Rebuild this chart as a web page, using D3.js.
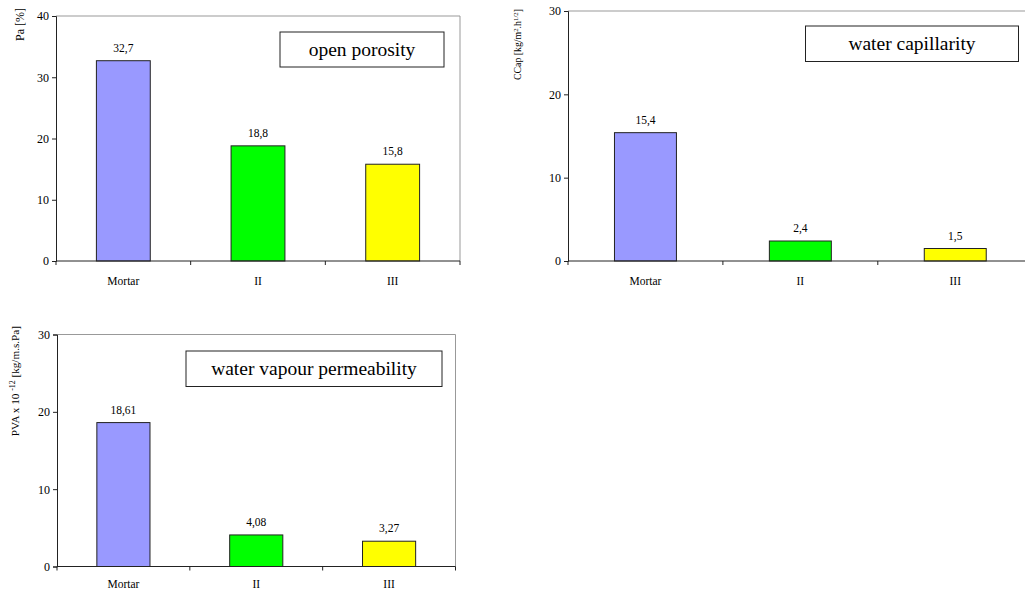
<!DOCTYPE html>
<html><head><meta charset="utf-8">
<script src="https://cdn.jsdelivr.net/npm/d3@7"></script>
<style>body{margin:0;background:#fff}svg{display:block}svg text{font-family:"Liberation Serif",serif !important;fill:#000}</style>
</head><body>
<svg id="c" width="1025" height="590"></svg>
<script>
const categories = ["Mortar", "II", "III"];
const porosityValues = [32.7, 18.8, 15.8];
const porosityLabels = ["32,7", "18,8", "15,8"];
const capillarityValues = [15.4, 2.4, 1.5];
const capillarityLabels = ["15,4", "2,4", "1,5"];
const vapourValues = [18.61, 4.08, 3.27];
const vapourLabels = ["18,61", "4,08", "3,27"];
const porosityTicks = [0, 10, 20, 30, 40];
const capTicks = [0, 10, 20, 30];
const vapourTicks = [0, 10, 20, 30];
const barColors = ["#9999FF", "#00FF00", "#FFFF00"];

const FONT = "Liberation Serif, serif";
const svg = d3.select("#c");

function drawChart(o) {
  const g = svg.append("g").attr("font-family", FONT);
  const x = d3.scaleBand().domain(categories).range([o.left, o.right]).paddingInner(0.6).paddingOuter(0.3);
  const xb = d3.scaleBand().domain(categories).range([o.left, o.right]).padding(0);
  const y = d3.scaleLinear().domain([0, d3.max(o.ticks)]).range([o.bottom, o.top]);
  g.append("path").attr("d", `M${o.left},${o.top}H${o.right}V${o.bottom}`).attr("fill", "none").attr("stroke", "#999").attr("stroke-width", 1);
  g.selectAll("rect.bar").data(o.values).join("rect")
    .attr("x", (d, i) => x(categories[i])).attr("width", x.bandwidth())
    .attr("y", d => y(d)).attr("height", d => y(0) - y(d))
    .attr("fill", (d, i) => barColors[i]).attr("stroke", "#222").attr("stroke-width", 1);
  g.selectAll("text.val").data(o.values).join("text")
    .attr("x", (d, i) => x(categories[i]) + x.bandwidth() / 2).attr("y", d => y(d) - 9)
    .attr("text-anchor", "middle").attr("font-size", 11.5).text((d, i) => o.labels[i]);
  const ya = g.append("g").attr("transform", `translate(${o.left},0)`)
    .call(d3.axisLeft(y).tickValues(o.ticks).tickSize(4).tickPadding(3).tickFormat(d3.format("d")));
  ya.attr("font-family", FONT);
  ya.selectAll("text").attr("font-size", 12);
  ya.selectAll("line,path").attr("stroke", "#222");
  g.append("line").attr("x1", o.left).attr("x2", o.right).attr("y1", o.bottom).attr("y2", o.bottom).attr("stroke", "#222");
  const bounds = categories.map(c => xb(c)).concat([o.right]);
  g.selectAll("line.xt").data(bounds).join("line")
    .attr("x1", d => d).attr("x2", d => d).attr("y1", o.bottom).attr("y2", o.bottom + 4).attr("stroke", "#222");
  g.selectAll("text.xl").data(categories).join("text")
    .attr("x", d => xb(d) + xb.bandwidth() / 2).attr("y", o.bottom + o.xlabOff)
    .attr("text-anchor", "middle").attr("font-size", 11.5).text(d => d);
  g.append("rect").attr("x", o.box[0]).attr("y", o.box[1]).attr("width", o.box[2] - o.box[0]).attr("height", o.box[3] - o.box[1])
    .attr("fill", "#fff").attr("stroke", "#222").attr("stroke-width", 1);
  g.append("text").attr("x", (o.box[0] + o.box[2]) / 2).attr("y", (o.box[1] + o.box[3]) / 2 + 6)
    .attr("text-anchor", "middle").attr("font-size", 19.5).text(o.title);
  const t = g.append("text").attr("transform", `translate(${o.labelX},${o.labelY}) rotate(-90)`)
    .attr("text-anchor", "end").attr("font-size", o.labelSize);
  o.labelParts.forEach(p => {
    const ts = t.append("tspan").text(p[0]);
    if (p[1] === "sup") ts.attr("baseline-shift", "super").attr("font-size", o.labelSize * 0.7);
  });
}

drawChart({left: 56, right: 460, top: 16, bottom: 261, ticks: porosityTicks, values: porosityValues, labels: porosityLabels,
  box: [280, 32, 444, 67], title: "open porosity", labelX: 24, labelY: 8, labelSize: 12, xlabOff: 24,
  labelParts: [["Pa  [%]"]]});
drawChart({left: 568, right: 1032.7, top: 11, bottom: 261, ticks: capTicks, values: capillarityValues, labels: capillarityLabels,
  box: [805.5, 26, 1018.5, 61.5], title: "water capillarity", labelX: 521, labelY: 9, labelSize: 9.8, xlabOff: 24,
  labelParts: [["CCap [kg/m"], ["2", "sup"], [".h"], ["1/2", "sup"], ["]"]]});
drawChart({left: 57, right: 455.5, top: 334.5, bottom: 566.5, ticks: vapourTicks, values: vapourValues, labels: vapourLabels,
  box: [186, 351, 442, 386.5], title: "water vapour permeability", labelX: 19, labelY: 326, labelSize: 11.2, xlabOff: 21,
  labelParts: [["PVA x  10 "], ["-12", "sup"], [" [kg/m.s.Pa]"]]});
</script>
</body></html>
